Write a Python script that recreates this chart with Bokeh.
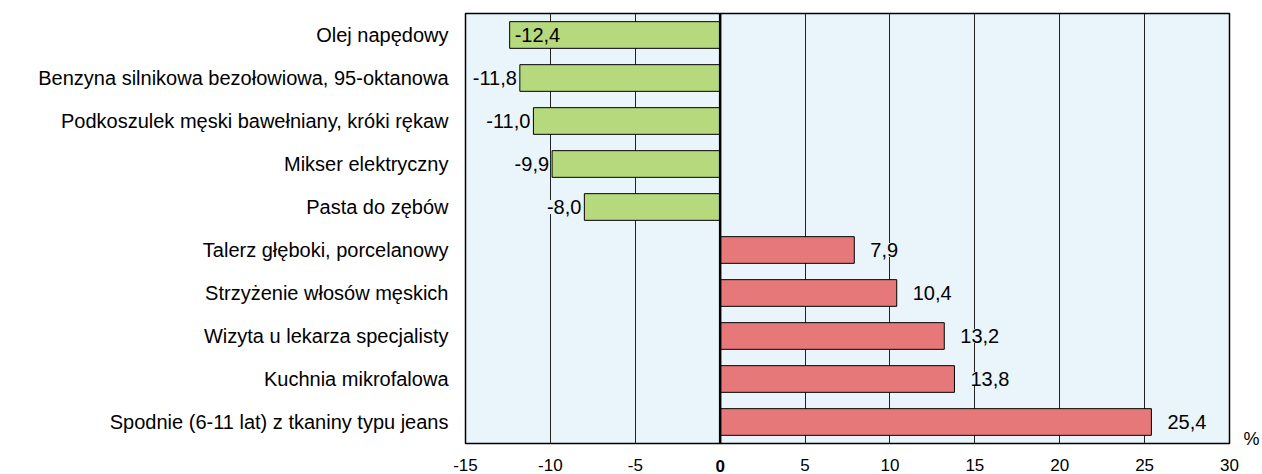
from bokeh.plotting import figure
from bokeh.models import (ColumnDataSource, FactorRange, Range1d, FixedTicker, LabelSet, Span,
                          LinearAxis, CategoricalAxis)
from bokeh.core.properties import value
from bokeh.embed import file_html
from bokeh.resources import INLINE

categories = [
    "Olej napędowy",
    "Benzyna silnikowa bezołowiowa, 95-oktanowa",
    "Podkoszulek męski bawełniany, króki rękaw",
    "Mikser elektryczny",
    "Pasta do zębów",
    "Talerz głęboki, porcelanowy",
    "Strzyżenie włosów męskich",
    "Wizyta u lekarza specjalisty",
    "Kuchnia mikrofalowa",
    "Spodnie (6-11 lat) z tkaniny typu jeans",
]
values = [-12.4, -11.8, -11.0, -9.9, -8.0, 7.9, 10.4, 13.2, 13.8, 25.4]
x_ticks = [-15, -10, -5, 0, 5, 10, 15, 20, 25, 30]
unit_label = "%"

FONT = "Liberation Sans"
BG = "#e9f4fb"
GREEN = "#b5d97c"
RED = "#e67879"

def fmt(v):
    return f"{v:.1f}".replace(".", ",")

colors = [GREEN if v < 0 else RED for v in values]
src = ColumnDataSource(dict(cat=categories, val=values, color=colors))

p = figure(
    width=1262, height=474,
    y_range=FactorRange(factors=list(reversed(categories)), range_padding=0),
    x_range=Range1d(x_ticks[0], x_ticks[-1]),
    output_backend="svg", toolbar_location=None,
    min_border_left=465, min_border_right=32, min_border_top=13, min_border_bottom=30,
    background_fill_color=BG, border_fill_color="white",
)
p.outline_line_color = "black"
p.outline_line_width = 1.5

p.hbar(y="cat", left=0, right="val", height=0.62, fill_color="color",
       line_color="black", line_width=1, source=src)

p.add_layout(Span(location=0, dimension="height", line_color="black", line_width=2.5))

def plain(ax):
    ax.axis_line_color = None
    ax.major_tick_line_color = None
    ax.minor_tick_line_color = None
    ax.major_label_text_font = FONT
    ax.major_label_text_color = "black"

# main x axis (all ticks except 0)
xa = p.below[0]
xa.ticker = FixedTicker(ticks=x_ticks)
xa.major_label_overrides = {t: ("" if t == 0 else str(t)) for t in x_ticks}
plain(xa)
xa.major_label_text_font_size = "17px"
xa.major_label_standoff = 9

# bold zero on a second axis, pulled up onto the first one's row
za = LinearAxis(ticker=FixedTicker(ticks=[0]))
plain(za)
za.major_label_text_font_size = "17px"
za.major_label_text_font_style = "bold"
za.major_label_standoff = -20
p.add_layout(za, "below")

# y axis
ya = p.left[0]
plain(ya)
ya.major_label_text_font_size = "20px"
ya.major_label_standoff = 11

# unit label to the right, near the bottom of the frame
p.extra_y_ranges = {"unit": FactorRange(factors=[unit_label, " "], range_padding=0,
                                        factor_padding=41)}
ua = CategoricalAxis(y_range_name="unit")
plain(ua)
ua.major_label_overrides = {" ": ""}
ua.major_label_text_font_size = "18px"
ua.major_label_standoff = 8
p.add_layout(ua, "right")

p.xgrid.ticker = FixedTicker(ticks=x_ticks)
p.xgrid.grid_line_color = "#222222"
p.xgrid.grid_line_width = 1
p.ygrid.grid_line_color = None

# value labels
pos = dict(cat=[], val=[], txt=[])
neg = dict(cat=[], val=[], txt=[])
ins = dict(cat=[], val=[], txt=[])
for c, v in zip(categories, values):
    d = pos if v > 0 else (ins if v <= -12 else neg)
    d["cat"].append(c); d["val"].append(v); d["txt"].append(fmt(v))

common = dict(text_font=value(FONT), text_font_size=value("20px"), text_color="black",
              text_baseline="middle")
p.add_layout(LabelSet(x="val", y="cat", text="txt", source=ColumnDataSource(pos), x_offset=16,
                      text_align="left", background_fill_color=BG, **common))
p.add_layout(LabelSet(x="val", y="cat", text="txt", source=ColumnDataSource(neg), x_offset=-3,
                      text_align="right", background_fill_color=BG, **common))
p.add_layout(LabelSet(x="val", y="cat", text="txt", source=ColumnDataSource(ins), x_offset=5,
                      text_align="left", **common))

open("out.html", "w").write(file_html(p, INLINE))
